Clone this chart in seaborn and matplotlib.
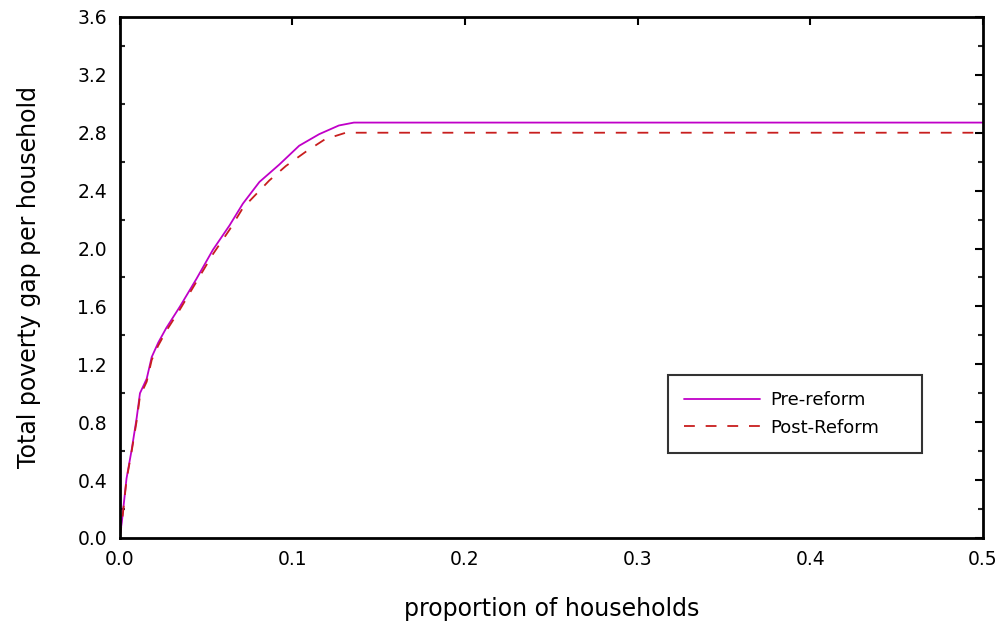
import matplotlib
matplotlib.use("Agg")
import matplotlib.pyplot as plt
import seaborn as sns
import pandas as pd
from matplotlib.ticker import MultipleLocator

# Data
pre_x = [0.0, 0.0013, 0.004, 0.007, 0.0099, 0.0118, 0.0157, 0.0186, 0.0224, 0.027,
         0.035, 0.0445, 0.054, 0.0637, 0.0714, 0.081, 0.0925, 0.104, 0.1156, 0.127,
         0.1357, 0.5]
pre_y = [0.0, 0.11, 0.41, 0.61, 0.83, 1.0, 1.10, 1.25, 1.35, 1.45,
         1.60, 1.79, 1.99, 2.16, 2.31, 2.46, 2.58, 2.71, 2.79, 2.85,
         2.87, 2.87]
post_x = [0.0, 0.0013, 0.004, 0.007, 0.0099, 0.0118, 0.0157, 0.0186, 0.0224, 0.027,
          0.035, 0.0445, 0.054, 0.0637, 0.0714, 0.0867, 0.0963, 0.108, 0.119, 0.131,
          0.5]
post_y = [0.0, 0.10, 0.40, 0.60, 0.81, 0.98, 1.08, 1.23, 1.33, 1.43,
          1.58, 1.77, 1.96, 2.13, 2.28, 2.47, 2.57, 2.67, 2.755, 2.80,
          2.80]
series_names = ["Pre-reform", "Post-Reform"]
x_ticks = [0.0, 0.1, 0.2, 0.3, 0.4, 0.5]
y_ticks = [0.0, 0.4, 0.8, 1.2, 1.6, 2.0, 2.4, 2.8, 3.2, 3.6]

sns.set_style("white")
plt.rcParams['font.family'] = ['DejaVu Sans']
plt.rcParams['text.color'] = 'black'
plt.rcParams['axes.labelcolor'] = 'black'

fig = plt.figure(figsize=(10.05, 6.27), dpi=100)
ax = fig.add_axes([0.119, 0.142, 0.859, 0.831])

pre_df = pd.DataFrame({"x": pre_x, "y": pre_y})
post_df = pd.DataFrame({"x": post_x, "y": post_y})

sns.lineplot(data=pre_df, x="x", y="y", ax=ax, color="#c000c8", lw=1.3,
             sort=False, estimator=None, label=series_names[0])
sns.lineplot(data=post_df, x="x", y="y", ax=ax, color="#c81e1e", lw=1.3,
             sort=False, estimator=None, label=series_names[1], dashes=False)
ax.lines[1].set_linestyle((0, (6, 6)))

ax.set_xlim(0, 0.5)
ax.set_ylim(0, 3.6)
ax.set_xticks(x_ticks)
ax.set_xticklabels([f"{v:.1f}" for v in x_ticks])
ax.set_yticks(y_ticks)
ax.set_yticklabels([f"{v:.1f}" for v in y_ticks])
ax.yaxis.set_minor_locator(MultipleLocator(0.2))

ax.tick_params(axis='both', which='major', direction='in', length=6, width=1.5,
               top=True, right=True, labelsize=13.5, colors='black', pad=9)
ax.tick_params(axis='y', which='minor', direction='in', length=3.5, width=1.5,
               left=True, right=True)

for s in ax.spines.values():
    s.set_visible(True)
    s.set_color('black')
    s.set_linewidth(2)

ax.set_xlabel("proportion of households", fontsize=17, labelpad=20)
ax.set_ylabel("Total poverty gap per household", fontsize=17, labelpad=26)

leg = ax.legend(loc='lower left', bbox_to_anchor=(0.635, 0.163, 0.294, 0.154),
                mode='expand', borderaxespad=0, fontsize=13,
                frameon=True, fancybox=False, edgecolor='black',
                handlelength=4.2, borderpad=0.9, labelspacing=0.55,
                handletextpad=0.6)
leg.get_frame().set_linewidth(1.5)

fig.savefig("out.png", dpi=100)
